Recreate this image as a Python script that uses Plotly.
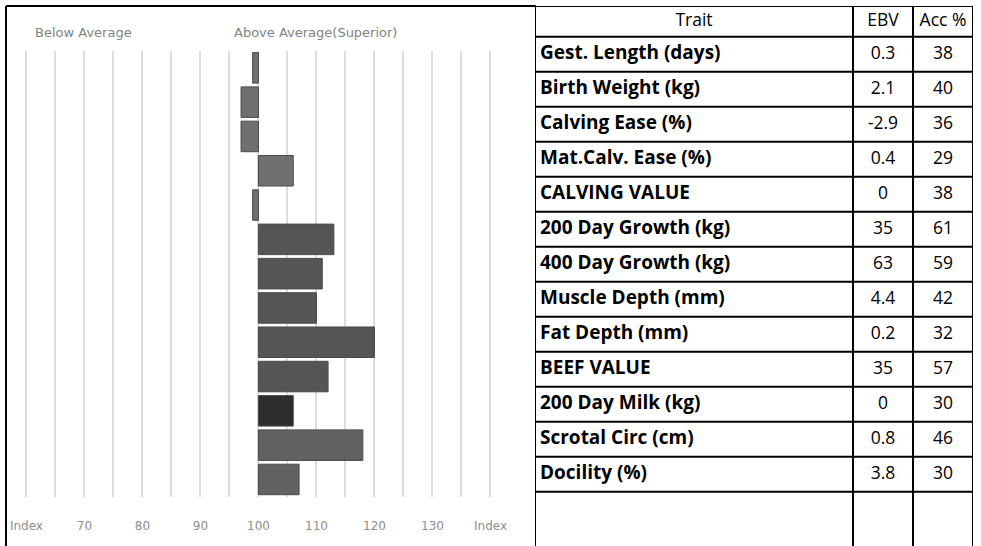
import plotly.graph_objects as go

# ---------------- data ----------------
traits = [
    "Gest. Length (days)", "Birth Weight (kg)", "Calving Ease (%)",
    "Mat.Calv. Ease (%)", "CALVING VALUE", "200 Day Growth (kg)",
    "400 Day Growth (kg)", "Muscle Depth (mm)", "Fat Depth (mm)",
    "BEEF VALUE", "200 Day Milk (kg)", "Scrotal Circ (cm)", "Docility (%)",
]
ebv = ["0.3", "2.1", "-2.9", "0.4", "0", "35", "63", "4.4", "0.2", "35", "0", "0.8", "3.8"]
acc = ["38", "40", "36", "29", "38", "61", "59", "42", "32", "57", "30", "46", "30"]
index_values = [99, 97, 97, 106, 99, 113, 111, 110, 120, 112, 106, 118, 107]
average_index = 100
axis_ticks = [60, 70, 80, 90, 100, 110, 120, 130, 140]
axis_labels = ["Index", "70", "80", "90", "100", "110", "120", "130", "Index"]
header_labels = ["Trait", "EBV", "Acc %"]
side_titles = ["Below Average", "Above Average(Superior)"]

# ---------------- styles / layout ----------------
bar_fill = ["#707070"] * 5 + ["#555555"] * 5 + ["#2e2e2e"] + ["#626262"] * 2
W, H = 981, 546
col_edges = [0, 318, 378, 438]          # table column borders (table axis units = px)
header_h, row_h = 30.7, 35.0
table_h = 540
x_lo, x_hi = 59.5, 140.5                 # slightly padded so edge gridlines show
px_per_unit = (490.5 - 26.4) / 80.0
plot_left = 26.4 - (60 - x_lo) * px_per_unit
plot_right = 490.5 + (x_hi - 140) * px_per_unit


def px(x):
    return x / W


def py(y):
    return 1 - y / H


row_edges = [0, header_h] + [header_h + row_h * (k + 1) for k in range(len(traits))]
row_mid = [header_h + row_h * (k + 0.5) for k in range(len(traits))]
col_mid = [(col_edges[i] + col_edges[i + 1]) / 2 for i in range(3)]

fig = go.Figure()

# ---- index bar chart ----
fig.add_trace(go.Bar(
    y=traits,
    x=[v - average_index for v in index_values],
    base=average_index,
    orientation="h",
    marker=dict(color=bar_fill, line=dict(color="#4a4a4a", width=1)),
    showlegend=False,
    hoverinfo="skip",
))

# ---- table text ----
reg_font = dict(family="Open Sans", size=17.5, color="black")
bold_font = dict(family="Open Sans", size=19, color="black")

fig.add_trace(go.Scatter(
    x=col_mid, y=[header_h / 2] * 3, text=header_labels,
    mode="text", textposition="middle center", textfont=reg_font,
    xaxis="x2", yaxis="y2", showlegend=False, hoverinfo="skip", cliponaxis=False,
))
fig.add_trace(go.Scatter(
    x=[col_edges[0] + 5] * len(traits), y=row_mid,
    text=["<b>" + t + "</b>" for t in traits],
    mode="text", textposition="middle right", textfont=bold_font,
    xaxis="x2", yaxis="y2", showlegend=False, hoverinfo="skip", cliponaxis=False,
))
fig.add_trace(go.Scatter(
    x=[col_mid[1]] * len(ebv), y=row_mid, text=ebv,
    mode="text", textposition="middle center", textfont=reg_font,
    xaxis="x2", yaxis="y2", showlegend=False, hoverinfo="skip", cliponaxis=False,
))
fig.add_trace(go.Scatter(
    x=[col_mid[2]] * len(acc), y=row_mid, text=acc,
    mode="text", textposition="middle center", textfont=reg_font,
    xaxis="x2", yaxis="y2", showlegend=False, hoverinfo="skip", cliponaxis=False,
))

table_lines = [
    dict(type="line", xref="x2", yref="y2", x0=col_edges[0], x1=col_edges[-1], y0=yv, y1=yv,
         line=dict(color="black", width=2))
    for yv in row_edges
] + [
    dict(type="line", xref="x2", yref="y2", x0=xv, x1=xv, y0=0, y1=table_h,
         line=dict(color="black", width=2))
    for xv in col_edges
]

frame_lines = [
    dict(type="line", xref="paper", yref="paper", x0=px(6), x1=px(536), y0=py(6), y1=py(6),
         line=dict(color="black", width=2)),
    dict(type="line", xref="paper", yref="paper", x0=px(6), x1=px(6), y0=py(6), y1=0,
         line=dict(color="black", width=2)),
]

grid_col = "#dcdcdc"
fig.update_layout(
    width=W, height=H,
    margin=dict(l=0, r=0, t=0, b=0, autoexpand=False),
    paper_bgcolor="white", plot_bgcolor="rgba(0,0,0,0)",
    bargap=0.11,
    xaxis=dict(
        domain=[px(plot_left), px(plot_right)],
        range=[x_lo, x_hi],
        tickmode="array", tickvals=axis_ticks, ticktext=axis_labels,
        showgrid=True, gridcolor=grid_col, gridwidth=1.5,
        minor=dict(tickmode="linear", tick0=60, dtick=5, showgrid=True,
                   gridcolor=grid_col, gridwidth=1.5),
        zeroline=False, showline=False, ticks="", automargin=False,
        tickfont=dict(family="DejaVu Sans", size=12, color="#8e8e8e"),
        ticklabelstandoff=20,
    ),
    yaxis=dict(
        domain=[py(496.6), py(50.7)],
        categoryorder="array", categoryarray=traits,
        autorange="reversed", automargin=False,
        showticklabels=False, showgrid=False, zeroline=False, ticks="",
    ),
    xaxis2=dict(domain=[px(535), px(973)], range=[col_edges[0], col_edges[-1]],
                visible=False, anchor="y2", automargin=False),
    yaxis2=dict(domain=[0, py(6)], range=[table_h, 0],
                visible=False, anchor="x2", automargin=False),
    annotations=[
        dict(text=side_titles[0], x=px(83.5), y=py(32), xref="paper", yref="paper",
             showarrow=False, xanchor="center", yanchor="middle",
             font=dict(family="DejaVu Sans", size=13, color="#828282")),
        dict(text=side_titles[1], x=px(315), y=py(32), xref="paper", yref="paper",
             showarrow=False, xanchor="center", yanchor="middle",
             font=dict(family="DejaVu Sans", size=13, color="#828282")),
    ],
    shapes=frame_lines + table_lines,
)

fig.write_html("out.html", post_script="document.body.style.margin='0px';",
               config={"displayModeBar": False})
